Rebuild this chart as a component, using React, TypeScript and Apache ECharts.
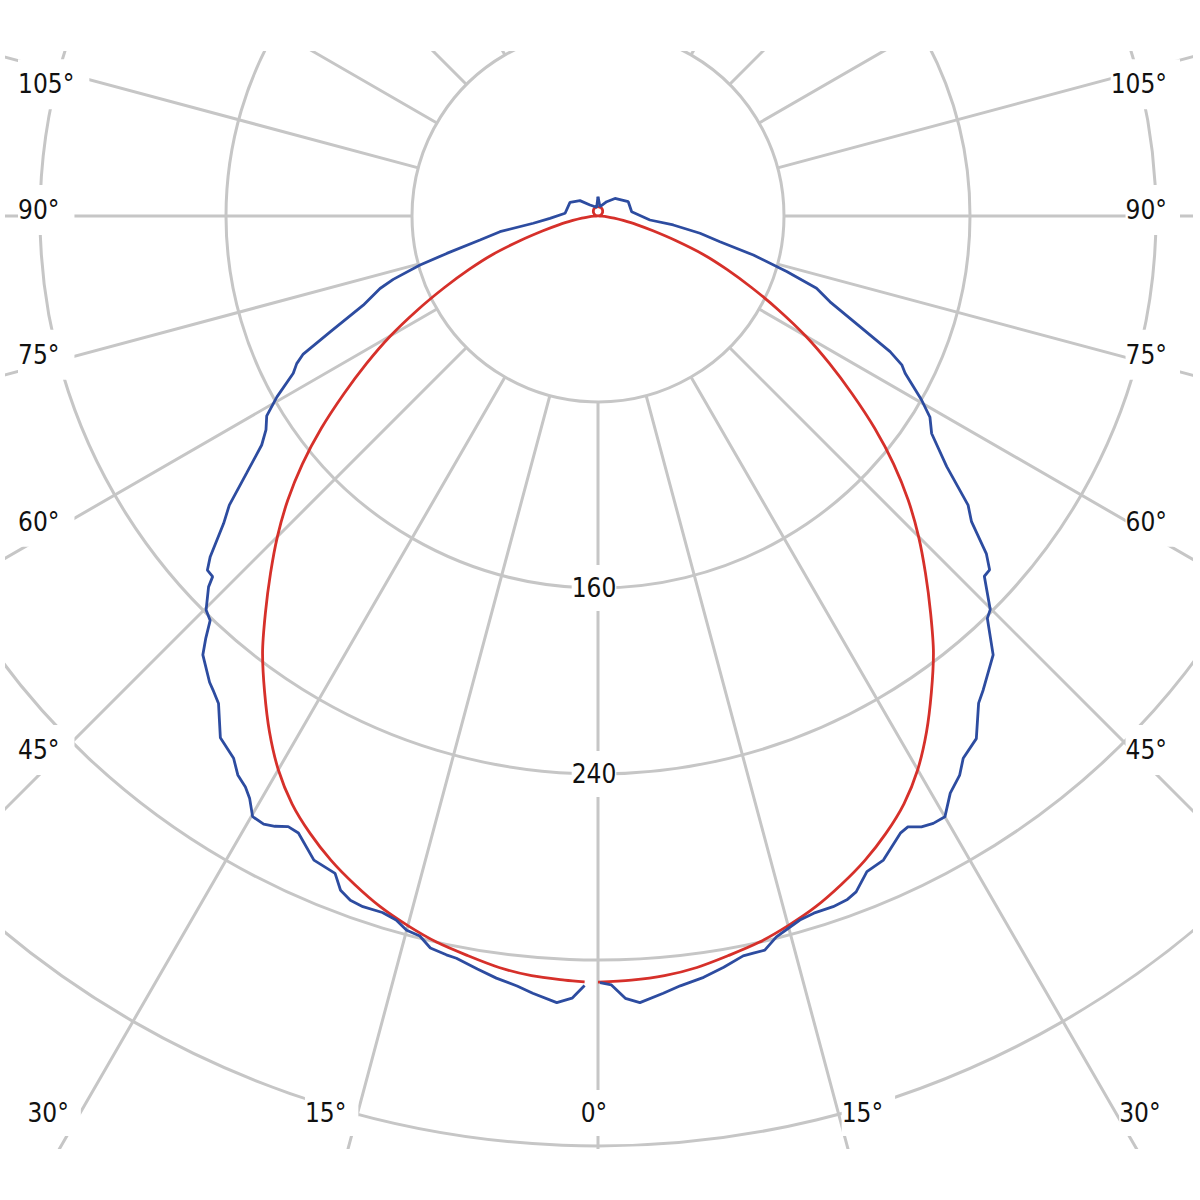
import React, { useEffect, useRef } from "react";
import * as echarts from "echarts";

// Polar photometric diagram, 0° pointing down
const CX = 598;
const CY = 216;
const GRID = "#c6c6c6";
const RED = "#d6302a";
const BLUE = "#2d4ca0";
const FONT = '"DejaVu Sans Condensed", "DejaVu Sans", sans-serif';

// radius rings and labels
const radiusTicks = [80, 160, 240, 320, 400];
const radiusLabels = [160, 240];
// angle tick labels
const sideLabelAngles = [105, 90, 75, 60, 45];
const bottomLabelAngles = [-30, -15, 0, 15, 30];

// red curve (symmetric), gamma in degrees
const redRightAngles = [0, 2.5, 5, 7.5, 10, 12.5, 15, 17.5, 20, 22.5, 25, 27.5, 30, 32.5, 35, 37.5, 40, 42.5, 45, 47.5, 50, 52.5, 55, 57.5, 60, 62.5, 65, 67.5, 70, 72.5, 75, 77.5, 80, 82.5, 85, 87.5, 90, 100, 110, 120, 130, 140, 150, 160, 170, 180];
const redLeftAngles = [1, 2.5, 5, 7.5, 10, 12.5, 15, 17.5, 20, 22.5, 25, 27.5, 30, 32.5, 35, 37.5, 40, 42.5, 45, 47.5, 50, 52.5, 55, 57.5, 60, 62.5, 65, 67.5, 70, 72.5, 75, 77.5, 80, 82.5, 85, 87.5, 90, 100, 110, 120, 130, 140, 150, 160, 170, 180];
const redValues = [329.5, 329, 328, 326, 323, 320, 316, 311.5, 306, 300, 293, 285, 275, 263, 250, 237, 222.5, 208.5, 195, 181, 166, 150, 133.5, 118, 103, 87.5, 73, 60, 48, 35, 24.5, 17, 11, 7, 4, 1.8, 0, 0.7, 1.4, 2, 2.6, 3.1, 3.5, 3.8, 3.9, 4];

// blue curve, left half
const blueLeftAngles = [1.0, 1.9, 3.0, 4.8, 6.0, 7.6, 9.1, 10.8, 11.6, 12.9, 13.9, 15.0, 16.0, 17.2, 18.8, 19.9, 20.9, 21.8, 23.8, 25.9, 26.9, 27.9, 28.8, 29.9, 30.9, 31.7, 32.8, 33.9, 35.9, 37.9, 39.1, 39.8, 42.0, 42.9, 43.8, 44.85, 46.4, 46.9, 47.8, 48.7, 50.6, 51.9, 53.8, 55.75, 57.2, 58.9, 60.6, 62.7, 63.9, 64.9, 66.6, 69.2, 71.6, 72.8, 74.6, 76.1, 78.5, 80.9, 83.6, 87.2, 94.7, 116, 130.4, 144, 171.5, 180];
const blueLeftValues = [331, 336.6, 338.8, 335.5, 333, 330.7, 328, 325, 324.4, 323, 319, 318, 315, 313.6, 313.8, 313, 310.4, 304.5, 302.8, 295, 294.5, 297, 298.5, 298, 291.8, 288.6, 286, 281, 277, 265.7, 262.6, 261, 254, 247.8, 241, 239, 231.3, 227, 226.8, 222, 208.4, 201.5, 187.3, 175, 169.9, 166.4, 158.5, 147.5, 144.3, 140, 125.5, 108, 98.8, 92.2, 79.4, 67, 51.8, 42.7, 28, 20.7, 14.2, 13.4, 10.2, 5.85, 3.8, 8.3];

// blue curve, right half
const blueRightAngles = [0.15, 1.0, 2.0, 3.05, 4.8, 6.1, 7.9, 9.5, 11.1, 11.9, 12.8, 13.9, 16.0, 17.2, 18.8, 20.0, 20.9, 22.3, 23.9, 26.1, 26.9, 27.9, 28.9, 30.0, 31.4, 32.9, 33.96, 35.9, 38.0, 39.1, 42.0, 44.06, 44.9, 47.0, 47.9, 49.0, 50.7, 52.0, 54.3, 56.9, 58.8, 60.4, 62.9, 63.9, 65.1, 67.1, 69.7, 71.7, 73.6, 75.9, 78.1, 80.4, 83.2, 85.6, 97.3, 115.3, 136, 148.7, 167.9, 180];
const blueRightValues = [329.7, 330.8, 336.7, 338.8, 335.5, 333, 330.6, 327.6, 324.3, 324, 323.8, 319.4, 315, 313.9, 313.8, 313, 311.2, 304.8, 303, 295.6, 294.6, 297.3, 298.4, 298.4, 290.8, 286.4, 281.2, 277.5, 265.9, 262.7, 254, 240.8, 239, 227.2, 227, 221.3, 207.6, 202, 184.7, 171.3, 166.9, 160, 148.4, 145.5, 138.5, 122.3, 106.4, 99, 84.6, 68.9, 53.6, 44.5, 32.6, 22.4, 14.6, 14.4, 10.5, 7.2, 4.1, 8.3];

const pairs = (angles: number[], values: number[], sign: number) =>
  angles.map((a, i) => [values[i], sign * a]);

export default function App() {
  const ref = useRef<HTMLDivElement>(null);

  useEffect(() => {
    if (!ref.current) return;
    const chart = echarts.init(ref.current, null, { renderer: "svg" });
    const angleBase = { type: "value", min: -180, max: 180, startAngle: 90, clockwise: false, interval: 15 };
    const hidden = { axisLine: { show: false }, axisTick: { show: false }, axisLabel: { show: false } };

    const lineSeries = (data: number[][], color: string, smooth: number, z: number) => ({
      type: "line",
      coordinateSystem: "polar",
      polarIndex: 1,
      data,
      showSymbol: false,
      symbol: "none",
      smooth,
      silent: true,
      z,
      lineStyle: { color, width: 2.8 },
    });

    chart.setOption({
      animation: false,
      backgroundColor: "#ffffff",
      polar: [
        { center: [CX, CY], radius: [186, 1500] },
        { center: [CX, CY], radius: [0, 930] },
      ],
      angleAxis: [
        { polarIndex: 0, ...angleBase, ...hidden, splitLine: { show: true, lineStyle: { color: GRID, width: 3 } } },
        { polarIndex: 1, ...angleBase, ...hidden, splitLine: { show: false } },
      ],
      radiusAxis: [
        { polarIndex: 0, type: "value", min: 0, max: 1, ...hidden, splitLine: { show: false } },
        {
          polarIndex: 1,
          type: "value",
          min: 0,
          max: radiusTicks[radiusTicks.length - 1],
          interval: radiusTicks[0],
          ...hidden,
          splitLine: { show: true, lineStyle: { color: GRID, width: 3 } },
        },
      ],
      series: [
        lineSeries(pairs(redRightAngles, redValues, 1), RED, 0.3, 3),
        lineSeries(pairs(redLeftAngles, redValues, -1), RED, 0.3, 3),
        lineSeries(pairs(blueRightAngles, blueRightValues, 1), BLUE, 0, 4),
        lineSeries(pairs(blueLeftAngles, blueLeftValues, -1), BLUE, 0, 4),
      ],
    });

    const textStyle = { fontSize: 26, fontFamily: FONT, fill: "#111", backgroundColor: "#fff" };
    const graphics: any[] = [];

    // clipping masks
    graphics.push(
      { type: "rect", z: 50, shape: { x: 0, y: 0, width: 1200, height: 51 }, style: { fill: "#fff" } },
      { type: "rect", z: 50, shape: { x: 0, y: 1149, width: 1200, height: 51 }, style: { fill: "#fff" } },
      { type: "rect", z: 50, shape: { x: 0, y: 0, width: 5, height: 1200 }, style: { fill: "#fff" } },
      { type: "rect", z: 50, shape: { x: 1193, y: 0, width: 7, height: 1200 }, style: { fill: "#fff" } }
    );

    // radius labels on the 0° axis
    radiusLabels.forEach((v) => {
      const p = chart.convertToPixel({ seriesIndex: 0 }, [v, 0]) as number[];
      graphics.push({
        type: "text",
        z: 100,
        x: p[0] - 4,
        y: p[1],
        style: { ...textStyle, text: String(v), align: "center", verticalAlign: "middle", padding: [10, 0, 10, 0] },
      });
    });

    // side angle labels
    sideLabelAngles.forEach((a) => {
      const rad = (a * Math.PI) / 180;
      const y = CY + 540 * (Math.cos(rad) / Math.sin(rad)) + (a <= 90 ? -6 : 13);
      graphics.push({
        type: "text",
        z: 100,
        x: 18,
        y,
        style: { ...textStyle, text: a + "°", align: "left", verticalAlign: "middle", padding: [12, 15, 12, 0] },
      });
      graphics.push({
        type: "text",
        z: 100,
        x: 1180,
        y,
        style: { ...textStyle, text: a + "°", align: "right", verticalAlign: "middle", padding: [12, 13, 12, 0] },
      });
    });

    // bottom angle labels
    bottomLabelAngles.forEach((a) => {
      const rad = (Math.abs(a) * Math.PI) / 180;
      const off = a === 0 ? 0 : Math.sign(a) * (897 * Math.tan(rad) + 28);
      graphics.push({
        type: "text",
        z: 100,
        x: 594 + off + 6,
        y: 1113,
        style: { ...textStyle, text: Math.abs(a) + "°", align: "center", verticalAlign: "middle", padding: [10, 12, 10, 0] },
      });
    });

    chart.setOption({ graphic: graphics });

    return () => chart.dispose();
  }, []);

  return (
    <div
      ref={ref}
      style={{ position: "fixed", left: 0, top: 0, width: 1200, height: 1200, background: "#fff" }}
    />
  );
}
